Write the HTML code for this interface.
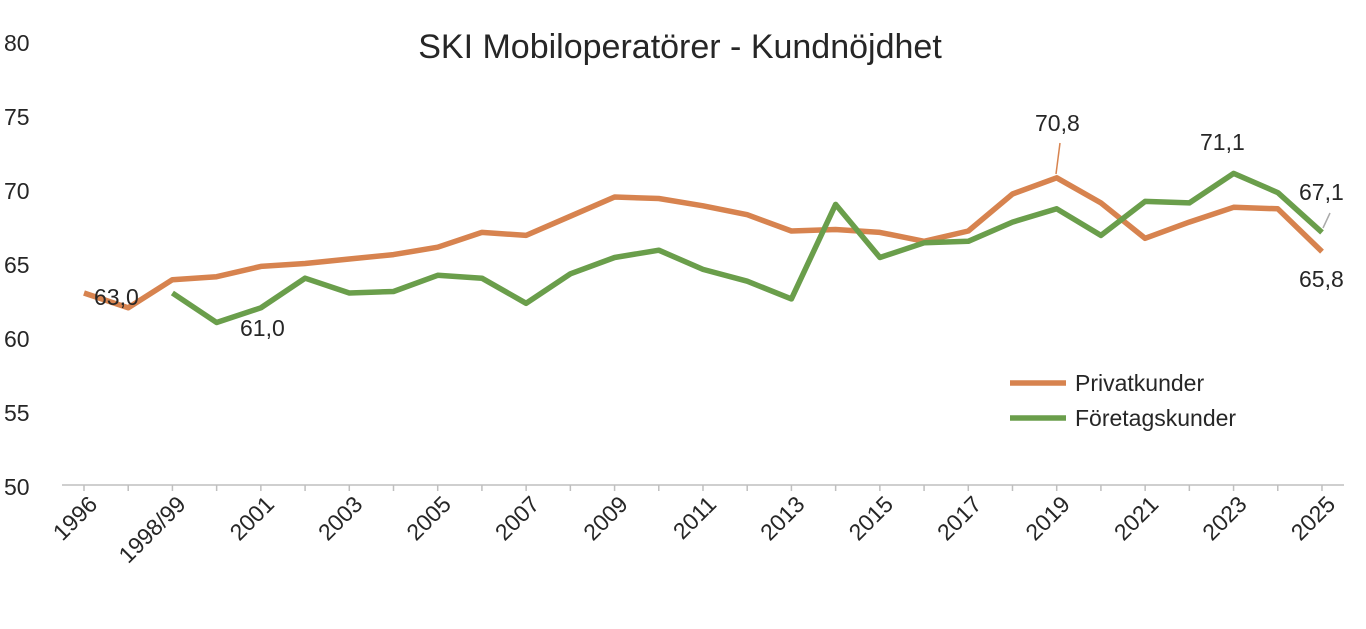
<!DOCTYPE html>
<html><head><meta charset="utf-8"><style>
html,body{margin:0;padding:0;background:#fff;}
svg text{font-family:"Liberation Sans",sans-serif;fill:#262626;}
</style></head><body>
<svg id="c" width="1366" height="624" viewBox="0 0 1366 624" xmlns="http://www.w3.org/2000/svg">
<text x="680" y="58" font-size="34" text-anchor="middle">SKI Mobiloperatörer - Kundnöjdhet</text>
<g font-size="23" text-anchor="start">
<text x="4" y="51">80</text><text x="4" y="125">75</text><text x="4" y="199">70</text>
<text x="4" y="273">65</text><text x="4" y="347">60</text><text x="4" y="421">55</text><text x="4" y="495">50</text>
</g>
<line x1="62" y1="485" x2="1344" y2="485" stroke="#bfbfbf" stroke-width="1.5"/>
<g id="ticks" stroke="#bfbfbf" stroke-width="1.5"></g>
<g id="xl" font-size="23" text-anchor="end"></g>
<polyline id="p" fill="none" stroke="#D7834F" stroke-width="5.5" stroke-linejoin="round"/>
<polyline id="f" fill="none" stroke="#6A9E4B" stroke-width="5.5" stroke-linejoin="round"/>
<g font-size="23">
<text x="94" y="305">63,0</text>
<text x="240" y="336">61,0</text>
<text x="1035" y="131">70,8</text>
<line x1="1060" y1="143" x2="1056" y2="174" stroke="#D7834F" stroke-width="1.5"/>
<text x="1200" y="150">71,1</text>
<text x="1299" y="200">67,1</text>
<line x1="1330" y1="213" x2="1323" y2="228" stroke="#aaa" stroke-width="1.5"/>
<text x="1299" y="287">65,8</text>
</g>
<line x1="1010" y1="383" x2="1066" y2="383" stroke="#D7834F" stroke-width="5.5"/>
<line x1="1010" y1="418" x2="1066" y2="418" stroke="#6A9E4B" stroke-width="5.5"/>
<g font-size="23"><text x="1075" y="391">Privatkunder</text><text x="1075" y="426">Företagskunder</text></g>
</svg>
<script>
var X=function(i){return 84+i*44.214;},Y=function(v){return 485-(v-50)*14.77;};
var P=[63.0,62.0,63.9,64.1,64.8,65.0,65.3,65.6,66.1,67.1,66.9,68.2,69.5,69.4,68.9,68.3,67.2,67.3,67.1,66.5,67.2,69.7,70.8,69.1,66.7,67.8,68.8,68.7,65.8];
var F=[null,null,63.0,61.0,62.0,64.0,63.0,63.1,64.2,64.0,62.3,64.3,65.4,65.9,64.6,63.8,62.6,69.0,65.4,66.4,66.5,67.8,68.7,66.9,69.2,69.1,71.1,69.8,67.1];
function pts(a){var s=[];a.forEach(function(v,i){if(v!=null)s.push(X(i).toFixed(1)+","+Y(v).toFixed(1));});return s.join(" ");}
document.getElementById('p').setAttribute('points',pts(P));
document.getElementById('f').setAttribute('points',pts(F));
var ns="http://www.w3.org/2000/svg",t=document.getElementById('ticks'),xl=document.getElementById('xl');
for(var i=0;i<29;i++){var l=document.createElementNS(ns,'line');l.setAttribute('x1',X(i));l.setAttribute('x2',X(i));l.setAttribute('y1',485);l.setAttribute('y2',491);t.appendChild(l);}
var labs={0:"1996",2:"1998/99"};for(var i=4;i<29;i+=2)labs[i]=String(1997+i);
for(var k in labs){var x=X(+k)+9,y=500;var e=document.createElementNS(ns,'text');e.setAttribute('x',x);e.setAttribute('y',y);e.setAttribute('transform','rotate(-45 '+x+' '+y+')');e.setAttribute('dy','8');e.textContent=labs[k];xl.appendChild(e);}
</script>
</body></html>
